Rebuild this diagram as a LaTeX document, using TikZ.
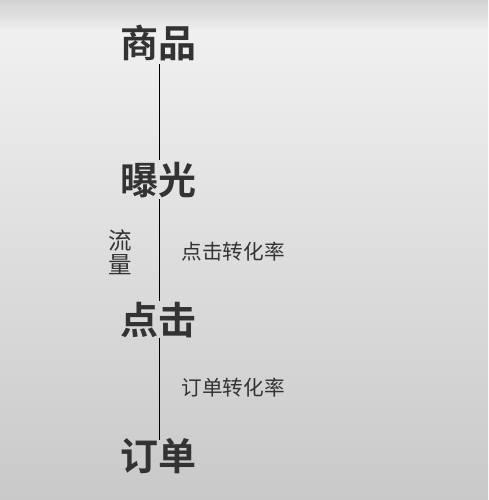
\documentclass[tikz,border=0pt]{standalone}
\usepackage{fontspec}
\newfontfamily\cjk{Noto Sans CJK SC}
\newfontfamily\cjkbold{Noto Sans CJK SC Bold}
\definecolor{txt}{HTML}{333333}
\definecolor{bgtop}{HTML}{D2D2D2}
\definecolor{bglight}{HTML}{F0F0F0}
\definecolor{bgbot}{HTML}{C9C9C9}
\begin{document}
\begin{tikzpicture}[x=1pt,y=1pt,
  stage/.style={inner sep=0pt, text=txt, font=\cjkbold\fontsize{38}{38}\selectfont},
  rate/.style={inner sep=0pt, anchor=west, text=txt, font=\cjk\fontsize{20.6}{20.6}\selectfont},
  flow/.style={inner sep=0pt, text=txt, align=center, font=\cjk\fontsize{23.5}{24}\selectfont},
  link/.style={draw=black, line width=1pt}]
\useasboundingbox (0,0) rectangle (488,-500);
\shade[top color=bgtop, bottom color=bglight] (0,0) rectangle (488,-32);
\shade[top color=bglight, bottom color=bgbot] (0,-32) rectangle (488,-500);
\node[stage] (sp) at (158,-43) {商品};
\node[stage] (bg) at (158,-180) {曝光};
\node[stage] (dj) at (158,-320) {点击};
\node[stage] (dd) at (158,-456.5) {订单};
\node[flow] (ll) at (120,-252) {流\\量};
\node[rate] (r1) at (181.5,-252) {点击转化率};
\node[rate] (r2) at (181.5,-388) {订单转化率};
\draw[link] ([xshift=1pt,yshift=-3pt]sp.south) -- ([xshift=1pt,yshift=2pt]bg.north);
\draw[link] ([xshift=1pt,yshift=-1pt]bg.south) -- ([xshift=1pt,yshift=1pt]dj.north);
\draw[link] ([xshift=1pt,yshift=0pt]dj.south) -- ([xshift=1pt,yshift=-1pt]dd.north);
\end{tikzpicture}
\end{document}
